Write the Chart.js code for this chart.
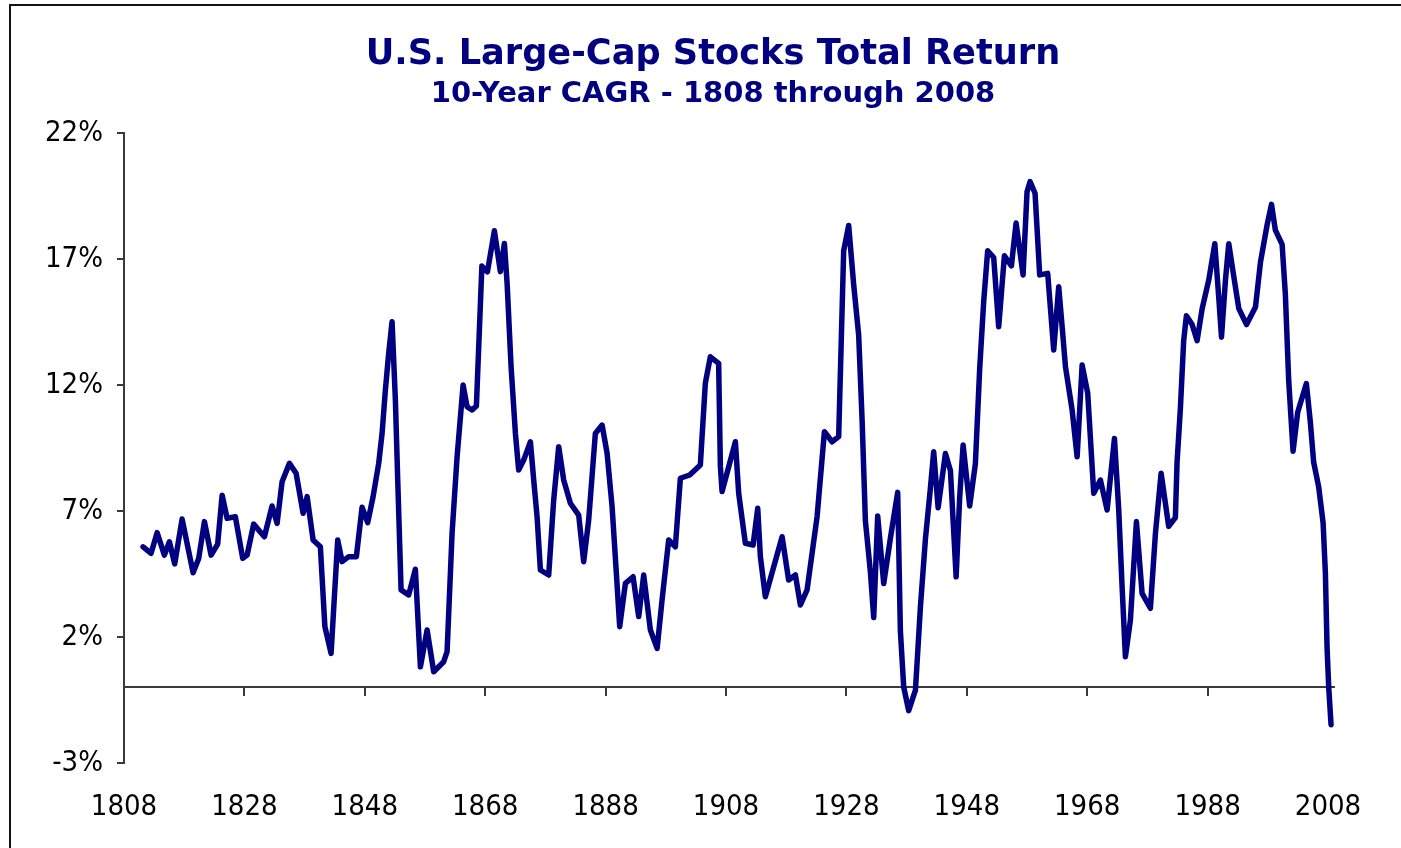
<!DOCTYPE html>
<html>
<head>
<meta charset="utf-8">
<script src="https://cdn.jsdelivr.net/npm/chart.js@4.4.1/dist/chart.umd.min.js"></script>
<style>
  html, body { margin: 0; padding: 0; background: #fff; }
  #wrap { position: relative; width: 1401px; height: 848px; overflow: hidden; }
  #frame { position: absolute; left: 9px; top: 4px; width: 1500px; height: 1000px; border: 2px solid #111; pointer-events: none; }
  canvas { position: absolute; left: 0; top: 0; }
</style>
</head>
<body>
<div id="wrap">
  <canvas id="cagrChart" width="1401" height="848"></canvas>
  <div id="frame"></div>
</div>
<script>
// traced vertices of the 10-year CAGR line (year, % per year)
const years = [
  1811.17, 1812.50, 1813.50, 1814.71, 1815.54, 1816.42, 1817.65, 1819.48, 1820.41, 1821.36,
  1822.47, 1823.56, 1824.30, 1825.13, 1826.50, 1827.72, 1828.45, 1829.54, 1831.32, 1832.60,
  1833.43, 1834.26, 1835.48, 1836.59, 1837.75, 1838.42, 1839.41, 1840.62, 1841.37, 1842.40,
  1843.50, 1844.23, 1845.33, 1846.60, 1847.55, 1848.48, 1849.38, 1850.31, 1850.87, 1851.42,
  1851.97, 1852.53, 1853.08, 1853.47, 1854.03, 1855.29, 1856.40, 1857.24, 1858.35, 1859.45,
  1861.11, 1861.67, 1862.50, 1863.33, 1864.33, 1864.99, 1865.82, 1866.54, 1867.45, 1868.37,
  1869.53, 1870.52, 1871.19, 1871.64, 1872.30, 1873.02, 1873.56, 1874.40, 1875.51, 1876.06,
  1876.62, 1877.17, 1878.55, 1879.38, 1880.21, 1881.04, 1882.15, 1883.53, 1884.36, 1885.19,
  1886.30, 1887.42, 1888.25, 1889.08, 1889.79, 1890.34, 1891.29, 1892.57, 1893.50, 1894.33,
  1895.44, 1896.56, 1897.38, 1898.48, 1899.59, 1900.42, 1901.97, 1903.74, 1904.57, 1905.40,
  1906.78, 1907.07, 1907.35, 1909.56, 1910.11, 1911.22, 1912.50, 1913.27, 1913.71, 1914.54,
  1917.32, 1918.41, 1919.53, 1920.36, 1921.47, 1923.13, 1924.35, 1925.62, 1926.72, 1927.55,
  1928.38, 1929.21, 1930.04, 1930.61, 1931.16, 1931.99, 1932.54, 1933.20, 1934.20, 1935.31,
  1936.52, 1936.97, 1937.52, 1938.35, 1939.47, 1940.31, 1941.14, 1941.97, 1942.50, 1943.24,
  1944.45, 1945.28, 1946.23, 1946.82, 1947.39, 1948.48, 1949.43, 1950.14, 1950.81, 1951.47,
  1952.47, 1953.30, 1954.25, 1955.41, 1956.19, 1957.35, 1958.01, 1958.51, 1959.34, 1960.11,
  1961.44, 1962.44, 1963.27, 1963.84, 1964.39, 1965.50, 1966.33, 1967.16, 1968.09, 1969.09,
  1970.20, 1971.31, 1972.53, 1973.24, 1973.80, 1974.35, 1975.18, 1976.18, 1977.12, 1978.50,
  1979.34, 1980.28, 1981.54, 1982.65, 1982.93, 1983.48, 1984.03, 1984.48, 1985.43, 1986.26,
  1987.10, 1988.20, 1989.20, 1989.86, 1990.31, 1990.97, 1991.52, 1992.35, 1993.19, 1994.47,
  1995.96, 1996.79, 1997.90, 1998.62, 1999.26, 2000.38, 2000.92, 2001.47, 2002.20, 2002.97,
  2004.41, 2005.08, 2005.62, 2006.46, 2007.19, 2007.57, 2007.85, 2008.12, 2008.51
];
const cagr = [
  5.58, 5.32, 6.14, 5.25, 5.78, 4.90, 6.68, 4.55, 5.12, 6.58,
  5.25, 5.69, 7.63, 6.71, 6.77, 5.12, 5.25, 6.48, 5.98, 7.20,
  6.51, 8.16, 8.89, 8.50, 6.91, 7.57, 5.85, 5.58, 2.41, 1.35,
  5.85, 4.99, 5.19, 5.19, 7.15, 6.54, 7.57, 8.89, 10.08, 11.80,
  13.26, 14.51, 11.41, 8.23, 3.87, 3.67, 4.69, 0.82, 2.28, 0.62,
  1.02, 1.42, 6.12, 9.15, 12.00, 11.14, 11.01, 11.17, 16.72, 16.49,
  18.12, 16.50, 17.62, 16.04, 12.73, 10.08, 8.63, 9.02, 9.75, 8.23,
  6.77, 4.66, 4.46, 7.44, 9.55, 8.23, 7.31, 6.84, 4.99, 6.64,
  10.08, 10.41, 9.29, 7.17, 4.53, 2.41, 4.13, 4.39, 2.81, 4.46,
  2.28, 1.55, 3.47, 5.85, 5.58, 8.30, 8.43, 8.83, 12.07, 13.12,
  12.86, 8.76, 7.77, 9.75, 7.70, 5.72, 5.65, 7.11, 5.19, 3.60,
  5.98, 4.26, 4.46, 3.27, 3.87, 6.77, 10.15, 9.75, 9.95, 17.33,
  18.33, 15.99, 13.98, 10.62, 6.60, 4.58, 2.77, 6.80, 4.12, 5.92,
  7.74, 2.24, 0.02, -0.92, -0.11, 3.24, 5.92, 7.94, 9.35, 7.13,
  9.28, 8.61, 4.39, 7.54, 9.62, 7.20, 8.88, 12.63, 15.32, 17.33,
  17.06, 14.31, 17.13, 16.73, 18.43, 16.37, 19.67, 20.07, 19.61, 16.37,
  16.43, 13.39, 15.90, 14.31, 12.73, 11.01, 9.15, 12.79, 11.67, 7.70,
  8.23, 7.04, 9.88, 7.04, 4.00, 1.22, 2.67, 6.58, 3.73, 3.14,
  6.12, 8.50, 6.39, 6.74, 8.94, 11.06, 13.76, 14.75, 14.40, 13.76,
  15.03, 16.17, 17.61, 15.46, 13.90, 16.17, 17.61, 16.31, 15.03, 14.40,
  15.10, 16.88, 18.37, 19.17, 18.15, 17.58, 15.60, 12.20, 9.37, 10.92,
  12.06, 10.50, 8.94, 7.95, 6.53, 4.54, 1.57, 0.01, -1.48
];
const yearTicks = [1808, 1828, 1848, 1868, 1888, 1908, 1928, 1948, 1968, 1988, 2008];
const pctMin = -3;
const pctMax = 22;
const pctStep = 5;

const axisColor = "#3a3a3a";
const navy = "#000080";
const tickFont = { family: "'DejaVu Sans Condensed', 'DejaVu Sans', sans-serif", size: 29 };
const titleFamily = "'DejaVu Sans', Verdana, sans-serif";

function setYearTicks(scale) {
  scale.ticks = yearTicks.map(v => ({ value: v }));
}

const ctx = document.getElementById("cagrChart");
new Chart(ctx.getContext("2d"), {
  type: "line",
  data: {
    datasets: [
      {
        data: years.map((yr, i) => ({ x: yr, y: cagr[i] })),
        borderColor: navy,
        borderWidth: 5.5,
        borderJoinStyle: "round",
        borderCapStyle: "round",
        pointRadius: 0,
        tension: 0,
        fill: false,
      },
    ],
  },
  options: {
    responsive: false,
    animation: false,
    layout: { padding: { left: 25, right: 0, top: 0, bottom: 0 } },
    plugins: {
      legend: { display: false },
      tooltip: { enabled: false },
      title: {
        display: true,
        text: "U.S. Large-Cap Stocks Total Return",
        color: navy,
        font: { family: titleFamily, size: 35.2, weight: "bold", lineHeight: 1.2 },
        padding: { top: 34, bottom: 0 },
      },
      subtitle: {
        display: true,
        text: "10-Year CAGR - 1808 through 2008",
        color: navy,
        font: { family: titleFamily, size: 29, weight: "bold", lineHeight: 1.2 },
        padding: { top: 1, bottom: 21 },
      },
    },
    scales: {
      x: {
        type: "linear",
        min: 1808,
        max: 2009,
        afterBuildTicks: setYearTicks,
        afterFit: s => { s.height = 85; },
        grid: { display: false, drawTicks: false },
        border: { display: false },
        ticks: { font: tickFont, color: "#000", padding: 27, maxRotation: 0, callback: v => String(v) },
      },
      xZero: {
        type: "linear",
        axis: "x",
        position: { y: 0 },
        min: 1808,
        max: 2009,
        afterBuildTicks: setYearTicks,
        grid: { drawOnChartArea: false, drawTicks: true, tickLength: 8, color: axisColor, lineWidth: 2 },
        border: { color: axisColor, width: 2 },
        ticks: { display: false },
      },
      y: {
        min: pctMin,
        max: pctMax,
        afterFit: s => { s.width = 99; },
        grid: { drawOnChartArea: false, tickLength: 7, color: axisColor, lineWidth: 2 },
        border: { color: axisColor, width: 2 },
        ticks: { stepSize: pctStep, font: tickFont, color: "#000", padding: 14, callback: v => v + "%" },
      },
      // empty right-hand axis keeps the plot clear of the right edge
      yGap: {
        axis: "y",
        position: "right",
        min: pctMin,
        max: pctMax,
        afterFit: s => { s.width = 67; },
        grid: { display: false, drawTicks: false },
        border: { display: false },
        ticks: { display: false },
      },
    },
  },
});
</script>
</body>
</html>
